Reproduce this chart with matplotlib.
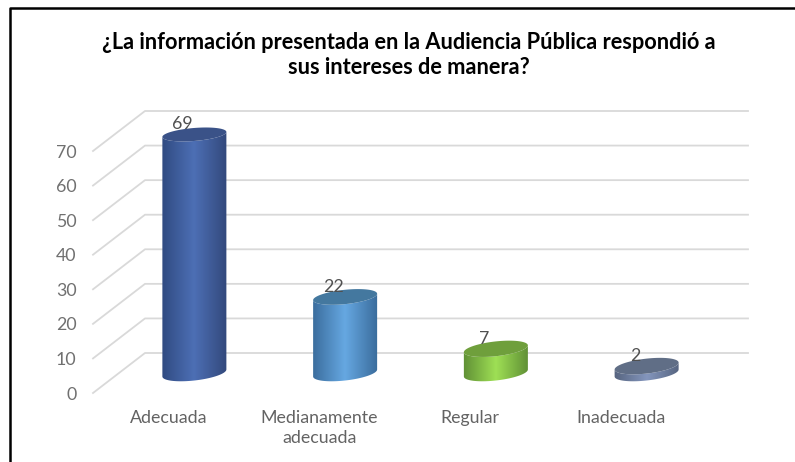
import numpy as np
import matplotlib
matplotlib.use('Agg')
import matplotlib.pyplot as plt
from matplotlib.colors import LinearSegmentedColormap
from matplotlib.lines import Line2D
from matplotlib.patches import Polygon

categories = ['Adecuada', 'Medianamente\nadecuada', 'Regular', 'Inadecuada']
values = [69, 22, 7, 2]
y_ticks = [0, 10, 20, 30, 40, 50, 60, 70]
title = '¿La información presentada en la Audiencia Pública respondió a\nsus intereses de manera?'

# edge, centre, edge of the cylinder side, then the cap
bar_colors = [
    ('#2f4a80', '#4d6fb5', '#33497c', '#3a5288'),
    ('#3a6c9c', '#66a8e2', '#3a6c9c', '#44789f'),
    ('#5f8f35', '#9fe055', '#5f8f35', '#6f9f3c'),
    ('#56647f', '#8496bd', '#56647f', '#606e86'),
]

W, H = 795, 462
plt.rcParams['font.family'] = ['Lato', 'DejaVu Sans']

fig = plt.figure(figsize=(W / 100, H / 100), dpi=100)
# axes is the front plane of the 3d box
ax = fig.add_axes([93 / W, 1 - 393 / H, 603 / W, 242 / H])
ax.set_xlim(-0.5, 3.5)
ax.set_ylim(0, 70)
for s in ax.spines.values():
    s.set_visible(False)

px_x = 4 / 603      # one pixel in category units
px_y = 70 / 242     # one pixel in value units
depth_x = 52 * px_x
depth_y = 40 * px_y

ax.set_xticks(range(len(categories)))
ax.set_xticklabels(categories, fontsize=12.8, color='#636363', linespacing=1.35, va='top')
ax.set_yticks(y_ticks)
ax.tick_params(axis='both', length=0)
ax.tick_params(axis='y', labelsize=12.8, labelcolor='#707070', pad=12)
ax.tick_params(axis='x', pad=12)

# gridlines, floor side and back wall
for v in y_ticks:
    ax.plot([-0.5, -0.5 + depth_x, 3.5 + depth_x], [v, v + depth_y, v + depth_y],
            color='#d9d9d9', lw=1.3, clip_on=False, zorder=1)


def ring(cx, v, t):
    ''' points of the elliptical section of a bar at height v '''
    a = 32 * px_x
    b = (7.5 - 1.0 * v / 69) * px_y
    tilt = (3.5 - 1.0 * v / 69) * px_y
    return cx + a * np.cos(t), v + depth_y / 2 + tilt * np.cos(t) - b * np.sin(t)


for i, (v, cols) in enumerate(zip(values, bar_colors)):
    cx = i + depth_x / 2
    # lower edge of the base left to right, back along the lower edge of the top
    x0, y0 = ring(cx, 0, np.linspace(np.pi, 0, 60))
    x1, y1 = ring(cx, v, np.linspace(0, np.pi, 60))
    patch = Polygon(np.column_stack([np.r_[x0, x1], np.r_[y0, y1]]), closed=True,
                    transform=ax.transData, fc='none', ec='none')
    ax.add_patch(patch)
    cmap = LinearSegmentedColormap.from_list('side', cols[:3])
    grad = np.linspace(0, 1, 128).reshape(1, -1)
    im = ax.imshow(grad, cmap=cmap, aspect='auto', zorder=3,
                   extent=[cx - 33 * px_x, cx + 33 * px_x, 0, v + depth_y])
    im.set_clip_box(fig.bbox)   # the tall bar goes over the top of the axes
    im.set_clip_path(patch)
    xc, yc = ring(cx, v, np.linspace(0, 2 * np.pi, 120))
    ax.fill(xc, yc, color=cols[3], lw=0, zorder=4, clip_on=False)
    ax.annotate(str(v), (cx, v + depth_y / 2), xytext=(-8.4, 1.5), textcoords='offset points',
                ha='center', va='bottom', fontsize=12.8, color='#505050', zorder=5,
                annotation_clip=False)

ax.set_xlim(-0.5, 3.5)
ax.set_ylim(0, 70)

fig.text(408.5 / W, 1 - 55 / H, title, ha='center', va='center', fontsize=15.7,
         fontweight='bold', color='black', linespacing=1.25)

# black frame of the chart area, open on the right and at the bottom
fx = [10 / W, 10 / W, 1]
fy = [0, 1 - 8 / H, 1 - 8 / H]
fig.add_artist(Line2D(fx, fy, color='black', lw=1.8, transform=fig.transFigure))

fig.savefig('out.png', dpi=100)
